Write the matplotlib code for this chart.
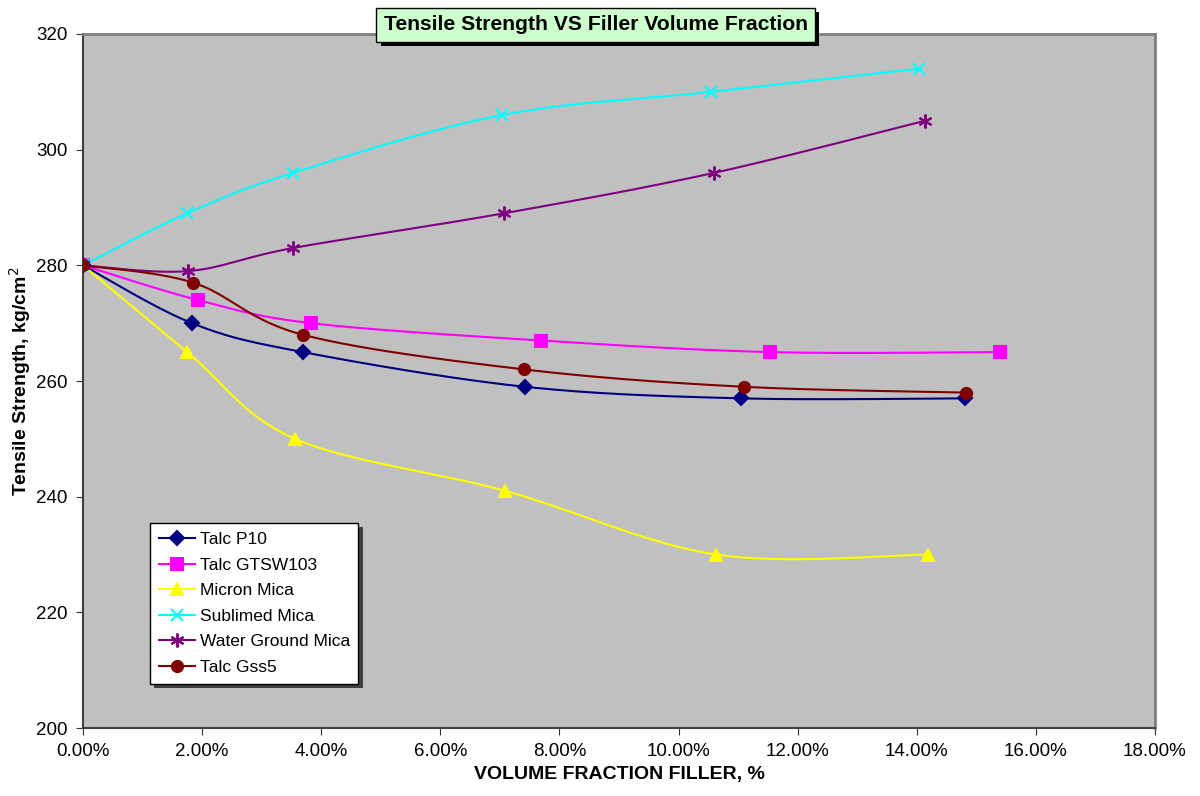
import matplotlib.pyplot as plt
import matplotlib.patheffects as pe
import numpy as np
from matplotlib.ticker import FuncFormatter

plt.rcParams['font.family'] = ['Liberation Sans', 'DejaVu Sans']

# volume fraction (%) and tensile strength (kg/cm2)
talc_p10_x = [0.0, 1.83, 3.69, 7.42, 11.05, 14.81]
talc_p10_y = [280, 270, 265, 259, 257, 257]

talc_gtsw_x = [0.0, 1.93, 3.83, 7.69, 11.54, 15.40]
talc_gtsw_y = [280, 274, 270, 267, 265, 265]

micron_x = [0.0, 1.75, 3.56, 7.09, 10.63, 14.19]
micron_y = [280, 265, 250, 241, 230, 230]

sublimed_x = [0.0, 1.75, 3.53, 7.04, 10.55, 14.04]
sublimed_y = [280, 289, 296, 306, 310, 314]

water_x = [0.0, 1.76, 3.53, 7.07, 10.60, 14.14]
water_y = [280, 279, 283, 289, 296, 305]

gss5_x = [0.0, 1.85, 3.69, 7.41, 11.10, 14.83]
gss5_y = [280, 277, 268, 262, 259, 258]


def smooth(x, y, n=30):
    # catmull-rom curve through the points, like excel's smoothed line
    p = np.column_stack([x, y]).astype(float)
    p = np.vstack([p[0], p, p[-1]])
    out = []
    t = np.linspace(0, 1, n)[:, None]
    for i in range(1, len(p) - 2):
        p0, p1, p2, p3 = p[i - 1], p[i], p[i + 1], p[i + 2]
        seg = 0.5 * ((2 * p1) + (-p0 + p2) * t + (2 * p0 - 5 * p1 + 4 * p2 - p3) * t ** 2
                     + (-p0 + 3 * p1 - 3 * p2 + p3) * t ** 3)
        out.append(seg)
    out = np.vstack(out)
    return out[:, 0], out[:, 1]


fig = plt.figure(figsize=(12, 7.96), dpi=100)
ax = fig.add_axes([0.0692, 0.0854, 0.8933, 0.8719])
ax.set_facecolor('#c0c0c0')

series = [
    ("Talc P10", talc_p10_x, talc_p10_y, '#000080', 'D', 7),
    ("Talc GTSW103", talc_gtsw_x, talc_gtsw_y, '#ff00ff', 's', 8),
    ("Micron Mica", micron_x, micron_y, '#ffff00', '^', 9),
    ("Sublimed Mica", sublimed_x, sublimed_y, '#00ffff', 'x', 8),
    ("Water Ground Mica", water_x, water_y, '#800080', (6, 2, 0), 10),
    ("Talc Gss5", gss5_x, gss5_y, '#800000', 'o', 8),
]

for name, xs, ys, col, mk, ms in series:
    sx, sy = smooth(xs, ys)
    ax.plot(sx, sy, color=col, lw=1.5, zorder=2)
    ax.plot(xs, ys, ls='none', marker=mk, color=col, ms=ms, mew=1.5, zorder=3)
    ax.plot([], [], color=col, lw=1.5, marker=mk, ms=ms, mew=1.5, label=name)

ax.set_xlim(0, 18)
ax.set_ylim(200, 320)
ax.set_xticks(np.arange(0, 19, 2))
ax.set_yticks(np.arange(200, 321, 20))
ax.xaxis.set_major_formatter(FuncFormatter(lambda v, p: f"{v:.2f}%"))
ax.tick_params(labelsize=13.5, direction='out', length=5, color='#333333', pad=6)
for s in ['top', 'right']:
    ax.spines[s].set_color('#808080')
    ax.spines[s].set_linewidth(2)
for s in ['left', 'bottom']:
    ax.spines[s].set_color('#404040')
    ax.spines[s].set_linewidth(1.5)

ax.set_xlabel("VOLUME FRACTION FILLER, %", fontsize=14, fontweight='bold', labelpad=4)
ax.set_ylabel("Tensile Strength, kg/cm$^2$", fontsize=14, fontweight='bold', labelpad=2)

leg = ax.legend(loc='upper left', bbox_to_anchor=(0.0625, 0.295), fontsize=12.5,
                frameon=True, fancybox=False, edgecolor='black', framealpha=1,
                handlelength=2.1, handletextpad=0.25, borderpad=0.5, labelspacing=0.6,
                borderaxespad=0)
leg.get_frame().set_linewidth(1)
leg.get_frame().set_path_effects([pe.withSimplePatchShadow(offset=(3, -3), shadow_rgbFace='#404040', alpha=1)])

fig.text(0.4965, 0.969, "Tensile Strength VS Filler Volume Fraction", fontsize=15.2,
         fontweight='bold', ha='center', va='center',
         bbox=dict(boxstyle='square,pad=0.35', facecolor='#ccffcc', edgecolor='black', lw=1,
                   path_effects=[pe.withSimplePatchShadow(offset=(3, -3), shadow_rgbFace='black', alpha=1)]))

fig.savefig("out.png", dpi=100)
